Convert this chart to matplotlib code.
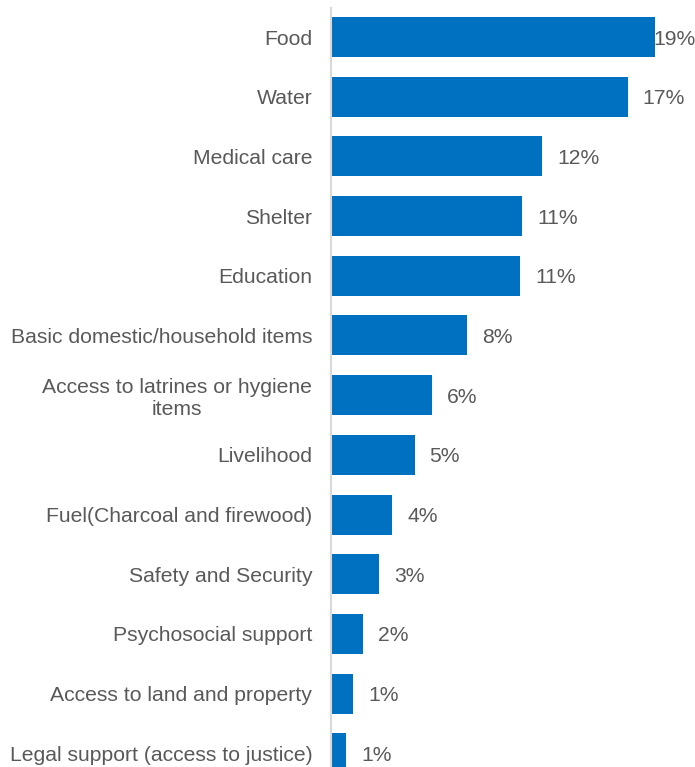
import matplotlib.pyplot as plt

plt.rcParams['font.family'] = ['Liberation Sans', 'DejaVu Sans']

# needs, share of respondents (%)
needs = ['Food', 'Water', 'Medical care', 'Shelter', 'Education',
         'Basic domestic/household items',
         'Access to latrines or hygiene\nitems',
         'Livelihood', 'Fuel(Charcoal and firewood)', 'Safety and Security',
         'Psychosocial support', 'Access to land and property',
         'Legal support (access to justice)']
values = [19.0, 17.4, 12.4, 11.2, 11.1, 8.0, 5.9, 4.9, 3.6, 2.8, 1.9, 1.3, 0.9]
labels = ['19%', '17%', '12%', '11%', '11%', '8%', '6%', '5%', '4%', '3%',
          '2%', '1%', '1%']

bar_col = '#0070C0'
txt_col = '#595959'
fs = 15.2

fig = plt.figure(figsize=(6.95, 7.67), dpi=100)
ax = fig.add_axes([331/695, 0, 1 - 331/695, 1 - 8/767])

pos = list(range(len(needs)))
ax.barh(pos, values, height=0.67, color=bar_col)

xmax = 364 / 17.05
ax.set_xlim(0, xmax)
ax.set_ylim(12.23, -0.486)

for p, v, lab in zip(pos, values, labels):
  x = min(v + 0.88, 18.9)
  ax.text(x, p, lab, va='center_baseline', ha='left', fontsize=fs, color=txt_col)

ax.set_yticks(pos)
ax.set_yticklabels(needs, fontsize=fs, color=txt_col, ha='right')
for t in ax.get_yticklabels():
  t.set_multialignment('center')
ax.tick_params(axis='y', length=0, pad=13.5)
ax.set_xticks([])

for s in ['top', 'right', 'bottom']:
  ax.spines[s].set_visible(False)
ax.spines['left'].set_color('#d9d9d9')
ax.spines['left'].set_linewidth(1.5)

fig.savefig('out.png', dpi=100)
